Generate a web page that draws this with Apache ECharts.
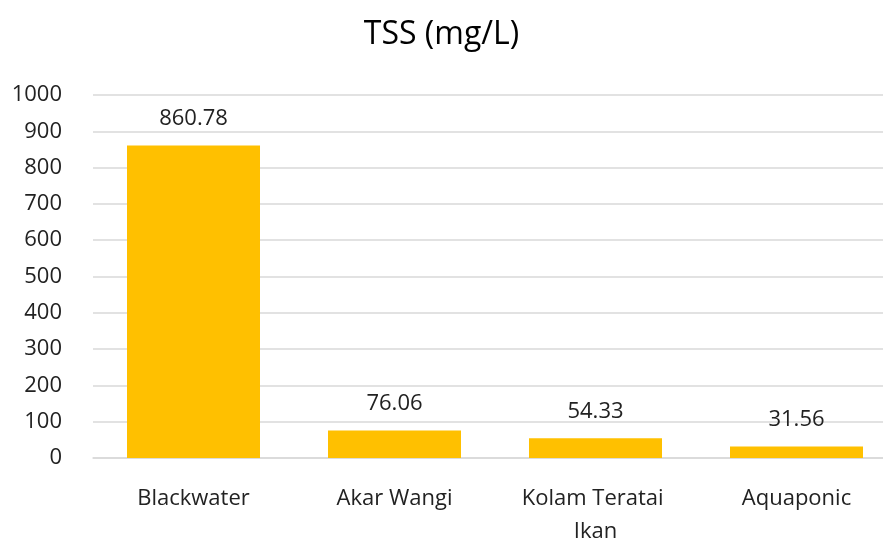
<!DOCTYPE html>
<html>
<head>
<meta charset="utf-8">
<script src="https://cdn.jsdelivr.net/npm/echarts@6/dist/echarts.min.js"></script>
<style>
  html, body { margin: 0; padding: 0; background: #fff; }
  #chart { width: 883px; height: 546px; }
</style>
</head>
<body>
<div id="chart"></div>
<script>
const categories = ['Blackwater', 'Akar Wangi', 'Kolam Teratai Ikan', 'Aquaponic'];
const tssValues = [860.78, 76.06, 54.33, 31.56];
const yTicks = { min: 0, max: 1000, interval: 100 };

const font = '"Open Sans", "Liberation Sans", sans-serif';
const chart = echarts.init(document.getElementById('chart'));

chart.setOption({
  animation: false,
  title: {
    text: 'TSS (mg/L)',
    left: 'center',
    top: 14,
    textStyle: { fontFamily: font, fontSize: 32, fontWeight: 'normal', color: '#000' }
  },
  grid: { left: 93, width: 804, top: 95, bottom: 88, outerBoundsMode: 'none' },
  xAxis: {
    type: 'category',
    data: categories,
    axisLine: { lineStyle: { color: '#d9d9d9', width: 1.5 } },
    axisTick: { show: false },
    axisLabel: {
      interval: 0,
      fontFamily: font, fontSize: 22, color: '#222', margin: 24,
      width: 170, overflow: 'break', lineHeight: 33
    }
  },
  yAxis: {
    type: 'value',
    min: yTicks.min,
    max: yTicks.max,
    interval: yTicks.interval,
    axisLine: { show: false },
    axisTick: { show: false },
    splitLine: { lineStyle: { color: '#d9d9d9', width: 1.5 } },
    axisLabel: { fontFamily: font, fontSize: 22, color: '#222', margin: 31, formatter: v => String(v) }
  },
  series: [{
    type: 'bar',
    data: tssValues,
    barWidth: 133,
    itemStyle: { color: '#FFC000' },
    label: {
      show: true,
      position: 'top',
      distance: 16,
      fontFamily: font,
      fontSize: 22,
      color: '#222',
      formatter: p => p.value.toFixed(2)
    }
  }]
});
</script>
</body>
</html>
